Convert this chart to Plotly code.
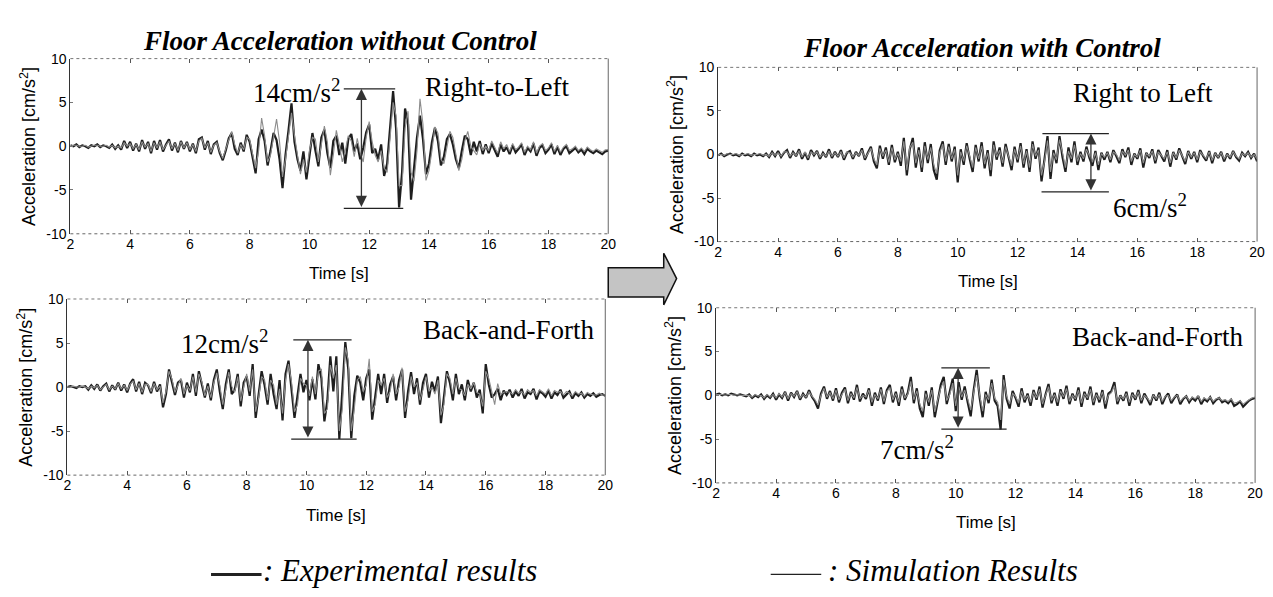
import plotly.graph_objects as go

W, H = 1273, 597

# ---------------- data (0.1 s sampling) ----------------
time_s = [round(2.0 + 0.1 * i, 1) for i in range(181)]

p1_exp = [0.1, 0.0, 0.2, -0.1, 0.1, 0.0, -0.2, 0.1, 0.0, 0.2,
          -0.1, 0.1, 0.0, -0.2, 0.2, -0.3, 0.1, -0.4, 0.6, -0.2,
          0.5, -0.5, 0.3, -0.6, 0.7, -0.3, 0.5, -0.8, 0.6, -0.4,
          0.7, -0.6, 0.2, 0.8, -0.5, 0.4, -0.7, 0.6, -0.3, 0.5,
          -0.6, 0.3, -0.8, 0.8, 1.0, -0.4, 0.6, -0.9, 0.2, 0.5,
          -0.8, -1.6, -0.5, 0.9, 1.5, -0.3, -1.0, 0.4, -0.6, 1.3,
          0.5, -1.2, -3.1, 0.8, 1.9, 0.6, -2.2, -0.5, 1.5, 0.7,
          -1.5, -4.8, -1.0, 1.8, 4.9, 0.5, -1.5, -2.8, -0.6, -3.8,
          -1.2, 1.5, -0.5, -2.3, 1.0, 1.9, -0.8, -2.5, 0.6, 1.2,
          -1.0, 0.4, -2.0, 0.8, 1.4, -0.6, 0.3, -1.5, -0.2, 1.6,
          2.5, -0.8, -0.3, -1.5, 0.2, -3.4, -2.0, 2.5, 6.3, 2.0,
          -7.0, -3.0, 4.3, 2.5, -6.1, -2.5, 1.0, 3.5, 0.8, -3.2,
          -2.0, 0.5, 2.1, 0.6, -2.2, -1.2, 0.8, 1.4, 0.2, -1.5,
          -2.5, -0.5, 1.2, 0.8, -1.0, 0.5, -0.6, 0.6, -0.9, 0.2,
          -0.8, 0.3, -0.5, -1.2, 0.2, -0.6, -0.1, -0.9, 0.1, -0.7,
          -0.3, 0.2, -1.0, -0.2, -0.6, 0.3, -1.1, -0.2, 0.1, -0.8,
          -0.4, 0.2, -0.9, -0.1, -1.0, -0.3, 0.0, -0.8, -0.5, -0.2,
          -0.7, -0.4, -0.9, -0.3, -0.6, -0.8, -0.5, -0.7, -0.9, -0.6,
          -0.5]
p1_sim = [0.0, 0.1, 0.1, 0.0, 0.0, 0.1, -0.1, 0.0, 0.1, 0.1,
          0.0, 0.0, 0.1, -0.1, 0.1, -0.2, 0.0, -0.2, 0.4, 0.0,
          0.3, -0.3, 0.2, -0.4, 0.5, -0.1, 0.3, -0.6, 0.4, -0.2,
          0.5, -0.4, 0.1, 0.6, -0.3, 0.3, -0.5, 0.5, -0.2, 0.4,
          -0.4, 0.2, -0.6, 0.6, 0.9, -0.2, 0.4, -0.7, 0.1, 0.4,
          -0.6, -1.4, -0.3, 0.8, 1.7, 0.2, -0.8, 0.2, -0.4, 1.0,
          0.8, -0.9, -2.5, -0.5, 3.2, 1.2, -1.8, -1.0, 0.9, 3.1,
          0.5, -3.5, -1.5, 1.0, 3.8, 1.2, -0.8, -3.2, -1.5, -3.0,
          -0.5, 1.0, 0.8, -1.8, 0.2, 2.3, 0.5, -3.3, -1.0, 1.8,
          0.2, -1.8, -0.5, 1.2, 0.6, -1.2, 0.9, -0.8, -1.8, 1.0,
          2.8, 0.5, -1.0, -1.8, -0.5, -2.5, -3.0, 1.0, 5.0, 3.5,
          -4.5, -4.5, 2.0, 4.0, -3.0, -4.0, -0.5, 5.4, 2.5, -3.9,
          -2.8, -0.5, 2.2, 1.5, -1.5, -2.0, 0.0, 1.7, 1.0, -1.0,
          -2.8, -1.5, 0.6, 1.7, 0.0, -0.5, -1.0, 0.3, -0.5, 0.0,
          -0.5, 0.6, -0.2, -0.8, 0.5, -0.3, 0.2, -0.6, 0.3, -0.4,
          -0.1, 0.4, -0.7, 0.0, -0.4, 0.5, -0.8, 0.0, 0.3, -0.5,
          -0.2, 0.4, -0.6, 0.1, -0.7, -0.1, 0.2, -0.5, -0.3, 0.0,
          -0.5, -0.2, -0.6, -0.1, -0.4, -0.6, -0.3, -0.5, -0.7, -0.4,
          -0.4]

p2_exp = [0.0, 0.1, 0.0, -0.1, 0.1, 0.0, 0.1, -0.3, 0.2, -0.2,
          0.3, -0.4, 0.1, 0.4, -0.5, 0.2, -0.3, 0.5, -0.4, 0.3,
          -0.6, 0.4, 0.9, -0.5, 0.6, -0.8, 0.5, 0.2, -0.7, 0.6,
          -0.5, 0.3, -2.3, -0.8, 2.0, 0.6, -0.9, 0.5, 0.8, -1.2,
          0.5, -0.6, 1.5, -1.0, 1.8, 0.3, -1.2, 0.4, -1.5, 0.8,
          2.0, -0.5, -2.5, 0.3, 2.0, -0.8, -0.3, 1.5, -2.2, 0.5,
          1.2, -1.0, 2.6, -3.5, -0.5, 1.8, 0.2, -2.0, 1.5, -0.8,
          -2.5, 0.8, -3.8, 1.5, 3.0, -0.5, -3.5, -1.0, 1.5, -0.6,
          0.8, -1.5, 0.9, -1.4, 2.6, 1.0, -3.9, -1.5, 3.5, -0.5,
          3.5, -5.9, -1.0, 5.1, 2.0, -5.8, -1.0, 1.3, 0.5, -1.5,
          1.0, 2.0, -3.7, -1.0, 1.5, -0.8, 1.5, -1.8, 0.3, 1.2,
          -1.5, 0.8, 2.0, -3.5, -0.5, 1.7, -0.8, 1.0, -2.0, 0.5,
          1.5, -1.2, 0.6, -0.5, 1.2, -4.1, -1.0, 1.8, 0.5, -1.5,
          1.5, -0.8, 0.3, -1.5, 0.8, -0.5, 0.5, -1.2, -0.3, -3.0,
          2.6, 0.3, -1.2, -0.8, -0.2, -1.5, -0.4, -0.9, -0.3, -1.2,
          -0.5, -1.0, -0.2, -1.3, -0.6, -0.8, -0.2, -1.4, -0.5, -0.7,
          -1.1, -0.4, -1.3, -0.6, -0.9, -0.3, -1.2, -0.8, -0.5, -1.3,
          -0.7, -1.0, -0.6, -1.2, -0.8, -1.0, -0.7, -1.1, -0.9, -0.8,
          -1.0]
p2_sim = [0.0, 0.0, 0.1, 0.0, 0.0, 0.1, 0.0, -0.2, 0.1, -0.1,
          0.2, -0.3, 0.0, 0.3, -0.3, 0.1, -0.2, 0.4, -0.2, 0.2,
          -0.4, 0.3, 0.7, -0.3, 0.4, -0.6, 0.3, 0.3, -0.5, 0.4,
          -0.3, 0.1, -1.8, -0.5, 1.8, 0.9, -0.6, 0.3, 1.0, -0.8,
          0.2, -0.4, 1.2, -0.6, 1.5, 0.6, -1.0, 0.1, -1.2, 0.5,
          1.6, 0.2, -2.0, -0.3, 1.7, 0.1, -0.6, 1.2, -1.6, 0.0,
          1.5, -0.5, 2.0, -2.8, -1.2, 1.2, 0.8, -1.5, 0.8, 0.2,
          -2.0, -0.2, -3.0, 0.8, 2.6, 0.6, -2.8, -2.0, 1.0, 0.4,
          0.2, -1.0, 1.2, -0.8, 1.8, 2.0, -3.0, -2.5, 2.5, 1.0,
          2.5, -5.0, -2.5, 4.5, 3.0, -5.0, -2.5, 0.8, 1.2, -0.5,
          0.2, 3.2, -2.8, -2.0, 0.8, 0.2, 1.0, -1.2, -0.5, 1.5,
          -0.8, 0.0, 2.2, -2.8, -1.5, 1.2, 0.0, 0.5, -1.5, -0.3,
          1.2, -0.5, 0.0, -0.8, 0.8, -3.2, -2.0, 1.5, 1.0, -0.8,
          1.0, -0.2, -0.3, -1.0, 0.3, -0.2, 0.5, -0.6, -0.8, -2.2,
          1.8, 1.0, -0.6, -2.0, 0.4, -0.8, -0.6, -0.5, -0.6, -0.8,
          -0.3, -0.7, -0.5, -0.9, -0.3, -0.6, -0.4, -1.0, -0.3, -0.6,
          -0.8, -0.2, -1.0, -0.4, -0.6, -0.5, -0.9, -0.5, -0.7, -1.0,
          -0.5, -0.8, -0.7, -1.0, -0.6, -0.8, -0.9, -0.9, -0.7, -0.9,
          -0.9]

p3_exp = [-0.1, 0.1, -0.2, 0.0, 0.1, -0.1, 0.0, -0.2, 0.1, -0.1,
          0.0, -0.2, 0.1, -0.1, 0.0, -0.2, 0.1, -0.3, 0.3, -0.2,
          0.4, -0.3, 0.2, 0.5, -0.4, 0.3, -0.2, 0.6, -0.5, 0.2,
          -0.6, 0.5, -0.1, 0.4, -0.5, 0.2, -0.3, 0.6, -0.4, 0.3,
          -0.3, 0.5, -0.6, 0.2, 0.4, -0.5, 0.3, -0.2, 0.7, -0.6,
          0.2, 0.9, -0.8, -1.6, 1.0, -0.5, 0.8, -1.2, 1.1, -0.9,
          0.3, -1.3, 1.9, -2.4, 0.6, 1.9, -1.5, 0.8, -2.0, 1.4,
          -1.0, 1.2, -1.8, -2.9, 0.5, 1.5, -1.2, 1.2, -0.8, 0.9,
          -3.2, 0.6, -1.2, 1.3, -0.5, -2.0, 1.1, -0.8, 1.4, -1.6,
          0.5, -2.5, 1.5, -0.6, 0.8, -1.4, 1.2, -0.4, -1.8, 0.9,
          -0.9, 1.3, -1.5, 0.6, -2.0, 1.5, -0.5, 0.8, -3.1, -0.5,
          2.1, -2.8, 0.5, -1.0, 2.1, -0.3, -2.0, 0.8, -0.9, 1.5,
          -1.2, 0.3, -0.8, 0.9, -0.4, -1.3, 0.4, -1.8, 0.2, -0.6,
          0.3, -0.9, 0.5, -0.2, -1.0, 0.6, -0.3, 0.8, -1.2, 0.1,
          -0.5, 0.7, -1.5, 0.2, -0.4, 0.6, -1.0, 0.5, -0.2, -0.8,
          0.5, -1.4, 0.3, -0.6, 0.7, -0.3, -1.1, 0.4, -0.5, 0.3,
          -0.9, 0.5, -0.2, -0.7, 0.4, -1.0, 0.2, -0.4, 0.3, -0.8,
          0.1, -0.5, 0.4, -0.3, -0.7, 0.2, -0.2, 0.3, -0.4, 0.1,
          -0.8]
p3_sim = [0.0, 0.0, -0.1, 0.1, 0.0, 0.0, 0.1, -0.1, 0.0, 0.0,
          0.1, -0.1, 0.0, 0.0, 0.1, -0.1, 0.0, -0.2, 0.2, -0.1,
          0.2, -0.2, 0.3, 0.3, -0.2, 0.2, -0.1, 0.4, -0.3, 0.3,
          -0.4, 0.3, 0.0, 0.3, -0.3, 0.1, -0.2, 0.4, -0.2, 0.2,
          -0.2, 0.3, -0.4, 0.3, 0.2, -0.3, 0.2, -0.1, 0.5, -0.4,
          0.1, 0.7, -0.5, -1.2, 0.7, -0.2, 0.5, -0.9, 0.8, -0.6,
          0.1, -0.8, 1.5, -1.8, 0.8, 1.4, -1.0, 0.5, -1.5, 1.0,
          -0.6, 0.8, -1.2, -2.2, 0.2, 1.2, -0.8, 0.9, -0.5, 0.6,
          -2.4, 0.3, -0.8, 1.0, -0.2, -1.5, 0.8, -0.5, 1.0, -1.1,
          0.2, -1.8, 1.1, -0.3, 0.5, -1.0, 0.9, -0.2, -1.3, 0.6,
          -0.6, 1.0, -1.1, 0.4, -1.5, 1.2, -0.2, 0.5, -2.4, -0.8,
          1.6, -2.0, 0.2, -0.6, 1.7, 0.2, -1.5, 0.4, -0.5, 1.1,
          -0.8, 0.1, -0.5, 0.6, -0.1, -0.9, 0.2, -1.2, 0.1, -0.3,
          0.2, -0.6, 0.3, 0.0, -0.7, 0.4, -0.1, 0.5, -0.8, 0.0,
          -0.3, 0.5, -1.0, 0.1, -0.2, 0.4, -0.7, 0.3, -0.1, -0.5,
          0.3, -1.0, 0.2, -0.4, 0.5, -0.2, -0.8, 0.3, -0.3, 0.2,
          -0.6, 0.3, -0.1, -0.5, 0.3, -0.7, 0.1, -0.3, 0.2, -0.5,
          0.0, -0.3, 0.3, -0.2, -0.5, 0.1, -0.1, 0.2, -0.3, 0.0,
          -0.5]

p4_exp = [0.1, 0.2, 0.0, 0.1, 0.0, 0.2, 0.1, 0.0, 0.1, 0.0,
          -0.1, 0.1, -0.3, 0.0, -0.2, 0.1, -0.4, 0.0, -0.3, 0.2,
          -0.5, 0.1, -0.3, 0.4, -0.6, 0.3, -0.2, 0.5, -0.5, 0.2,
          -0.3, 0.6, -0.2, -0.7, -1.5, 0.2, 1.0, -0.4, 0.5, -0.6,
          0.8, -0.8, 0.3, 0.9, -0.9, 0.4, -0.5, 1.2, -0.7, 0.2,
          -0.4, 0.8, -1.2, 0.3, -0.6, 0.9, -1.0, 0.6, 1.2, -0.8,
          0.4, -1.2, 1.0, -0.5, 0.3, 2.1, -0.9, 0.8, -1.5, -2.5,
          0.5, -1.2, 0.9, -2.5, -0.8, 1.2, 2.1, -1.0, 0.4, 1.9,
          -1.8, 1.5, -0.5, 1.0, -0.8, -2.4, 0.6, 2.9, -0.3, -2.5,
          0.4, -0.9, 1.8, -0.6, -1.2, -3.9, 2.3, -0.4, -1.5, 0.5,
          -0.3, -1.3, 0.8, -0.8, 0.2, -1.2, 0.6, -0.5, 1.0, -1.4,
          0.1, 1.3, -0.9, 0.3, -1.2, 0.7, -0.4, 1.1, -1.0, 0.2,
          -0.6, 0.9, -1.3, 0.4, -0.5, 1.0, -1.1, 0.3, -0.8, 0.6,
          -1.5, 0.2, 0.5, 1.5, -1.0, 0.0, -0.6, 0.4, -1.2, 0.3,
          -0.5, 0.6, -0.9, 0.2, -0.4, -1.1, 0.1, -0.6, 0.3, -1.0,
          -0.2, 0.2, -0.9, -0.3, 0.1, -1.0, -0.4, -0.1, -0.8, -0.3,
          -0.6, -0.1, -1.0, -0.4, -0.7, -0.2, -0.9, -0.5, -0.3, -0.8,
          -0.6, -0.9, -0.5, -1.2, -1.0, -0.7, -1.3, -0.9, -0.6, -0.4,
          -0.3]
p4_sim = [0.1, 0.1, 0.1, 0.0, 0.1, 0.1, 0.0, 0.1, 0.0, 0.0,
          0.0, 0.0, -0.2, 0.1, -0.1, 0.0, -0.3, 0.1, -0.2, 0.1,
          -0.3, 0.2, -0.2, 0.3, -0.4, 0.2, -0.1, 0.4, -0.3, 0.1,
          -0.2, 0.4, -0.1, -0.5, -1.1, 0.0, 0.8, -0.2, 0.3, -0.4,
          0.6, -0.5, 0.1, 0.7, -0.6, 0.2, -0.3, 0.9, -0.4, 0.0,
          -0.2, 0.6, -0.8, 0.1, -0.4, 0.7, -0.7, 0.4, 0.9, -0.5,
          0.2, -0.8, 0.7, -0.3, 0.1, 1.6, -0.5, 0.5, -1.0, -1.8,
          0.2, -0.8, 0.6, -1.9, -0.5, 0.8, 1.6, -0.6, 0.1, 1.4,
          -1.2, 1.0, -0.2, 0.6, -0.4, -1.7, 0.3, 2.3, 0.0, -1.8,
          0.1, -0.5, 1.4, -0.3, -0.8, -2.8, 1.8, -0.1, -1.0, 0.2,
          -0.1, -0.9, 0.5, -0.5, 0.0, -0.8, 0.4, -0.3, 0.7, -1.0,
          0.0, 1.0, -0.6, 0.1, -0.8, 0.5, -0.2, 0.8, -0.7, 0.0,
          -0.4, 0.6, -0.9, 0.2, -0.3, 0.7, -0.8, 0.1, -0.5, 0.4,
          -1.0, 0.0, 0.3, 1.1, -0.7, -0.1, -0.4, 0.2, -0.8, 0.1,
          -0.3, 0.4, -0.6, 0.0, -0.3, -0.8, 0.0, -0.4, 0.1, -0.7,
          -0.1, 0.0, -0.6, -0.2, 0.0, -0.7, -0.3, -0.1, -0.6, -0.2,
          -0.4, -0.1, -0.7, -0.3, -0.5, -0.2, -0.7, -0.4, -0.3, -0.6,
          -0.5, -0.7, -0.4, -0.9, -0.8, -0.6, -1.0, -0.7, -0.5, -0.3,
          -0.2]

x_ticks = [2, 4, 6, 8, 10, 12, 14, 16, 18, 20]
y_ticks = [-10, -5, 0, 5, 10]
y_tick_labels = ["-10", "-5", "0", "5", "10"]

panel_titles = ["Floor Acceleration without Control", "Floor Acceleration with Control"]
direction_labels = ["Right-to-Left", "Back-and-Forth", "Right to Left", "Back-and-Forth"]
range_labels = ["14cm/s<sup>2</sup>", "12cm/s<sup>2</sup>", "6cm/s<sup>2</sup>", "7cm/s<sup>2</sup>"]

# ---------------- layout helpers ----------------
def dom_x(a, b):
    return [a / W, b / W]

def dom_y(top, bottom):
    return [1 - bottom / H, 1 - top / H]

def px(x):
    return x / W

def py(y):
    return 1 - y / H

# pixel boxes of the four panels: (left, right, top, bottom)
boxes = [(67, 610, 52, 232), (64, 607, 299, 480), (721, 1265, 61, 240), (719, 1263, 308, 488)]
series = [(p1_exp, p1_sim), (p2_exp, p2_sim), (p3_exp, p3_sim), (p4_exp, p4_sim)]

SANS = "Liberation Sans, Arial, sans-serif"
SERIF = "Liberation Serif, Times New Roman, serif"

fig = go.Figure()
layout = dict(width=W, height=H, margin=dict(l=0, r=0, t=0, b=0), autosize=False,
              paper_bgcolor="white", plot_bgcolor="white", showlegend=False)

annotations = []
shapes = []

for i, ((l, r, t, b), (exp, sim)) in enumerate(zip(boxes, series)):
    k = "" if i == 0 else str(i + 1)
    xa, ya = "x" + k, "y" + k
    fig.add_trace(go.Scatter(x=time_s, y=exp, mode="lines", xaxis=xa, yaxis=ya,
                             line=dict(color="#1e1e1e", width=2.2), hoverinfo="skip"))
    fig.add_trace(go.Scatter(x=time_s, y=sim, mode="lines", xaxis=xa, yaxis=ya,
                             line=dict(color="#8c8c8c", width=1.1), hoverinfo="skip"))
    layout["xaxis" + k] = dict(domain=dom_x(l, r), anchor=ya, range=[2, 20],
                               tickvals=x_ticks, ticktext=[str(v) for v in x_ticks],
                               ticks="inside", ticklen=4, tickcolor="#555",
                               showline=False, mirror="ticks",
                               showgrid=False, zeroline=False, fixedrange=True,
                               tickfont=dict(family=SANS, size=14, color="black"))
    layout["yaxis" + k] = dict(domain=dom_y(t, b), anchor=xa, range=[-10, 10],
                               tickvals=y_ticks, ticktext=y_tick_labels,
                               ticks="inside", ticklen=3, tickcolor="#777",
                               showline=True, linecolor="#333", linewidth=1.2, mirror=False,
                               showgrid=False, zeroline=False, fixedrange=True,
                               tickfont=dict(family=SANS, size=14, color="black"))
    # frame: dotted top / bottom, thin solid right
    xd, yd = xa + " domain", ya + " domain"
    shapes.append(dict(type="line", xref=xd, yref=yd, x0=0, x1=1, y0=1, y1=1,
                       line=dict(color="#777", width=1, dash="dot")))
    shapes.append(dict(type="line", xref=xd, yref=yd, x0=0, x1=1, y0=0, y1=0,
                       line=dict(color="#666", width=1, dash="dot")))
    shapes.append(dict(type="line", xref=xd, yref=yd, x0=1, x1=1, y0=0, y1=1,
                       line=dict(color="#666", width=1)))
    # axis titles
    annotations.append(dict(text="Time [s]", xref="paper", yref="paper",
                            x=px((l + r) / 2), y=py(b + 41), xanchor="center", yanchor="middle",
                            showarrow=False, font=dict(family=SANS, size=17, color="black")))
    annotations.append(dict(text="Acceleration [cm/s<sup>2</sup>]", xref="paper", yref="paper",
                            x=px(l - 43), y=py((t + b) / 2), xanchor="center", yanchor="middle",
                            textangle=-90, showarrow=False,
                            font=dict(family=SANS, size=18, color="black")))

# in-panel labels and amplitude brackets (data coordinates)
brackets = [
    # (top_y, top_x0, top_x1, bot_y, bot_x0, bot_x1, arrow_x)
    (6.55, 11.15, 12.87, -7.1, 11.15, 13.14, 11.74),
    (5.36, 9.56, 11.51, -5.9, 9.49, 11.68, 10.05),
    (2.4, 12.83, 15.05, -4.3, 12.80, 15.05, 14.45),
    (3.14, 9.52, 11.14, -3.86, 9.52, 11.70, 10.08),
]
dir_pos = [(16.29, 6.8), (16.77, 6.46), (16.2, 7.1), (16.75, 6.7)]
rng_pos = [(11.1, 6.3, "right"), (8.78, 5.1, "right"), (15.12, -5.9, "left"), (8.72, -6.0, "center")]

for i, (ty, tx0, tx1, by, bx0, bx1, axp) in enumerate(brackets):
    k = "" if i == 0 else str(i + 1)
    xa, ya = "x" + k, "y" + k
    shapes.append(dict(type="line", xref=xa, yref=ya, x0=tx0, x1=tx1, y0=ty, y1=ty,
                       line=dict(color="#222", width=1.2)))
    shapes.append(dict(type="line", xref=xa, yref=ya, x0=bx0, x1=bx1, y0=by, y1=by,
                       line=dict(color="#222", width=1.2)))
    annotations.append(dict(x=axp, y=ty, ax=axp, ay=by, xref=xa, yref=ya, axref=xa, ayref=ya,
                            text="", showarrow=True, arrowhead=2, arrowside="end+start",
                            arrowsize=1.7, arrowwidth=1.3, arrowcolor="#333",
                            standoff=0, startstandoff=0))
    dx, dy = dir_pos[i]
    annotations.append(dict(x=dx, y=dy, xref=xa, yref=ya, text=direction_labels[i],
                            showarrow=False, xanchor="center", yanchor="middle",
                            font=dict(family=SERIF, size=27, color="black")))
    rx, ry, anc = rng_pos[i]
    annotations.append(dict(x=rx, y=ry, xref=xa, yref=ya, text=range_labels[i],
                            showarrow=False, xanchor=anc, yanchor="middle",
                            font=dict(family=SERIF, size=27, color="black")))

# column titles
annotations.append(dict(text="<b><i>" + panel_titles[0] + "</i></b>", xref="paper", yref="paper",
                        x=px(339), y=py(34), xanchor="center", yanchor="middle", showarrow=False,
                        font=dict(family=SERIF, size=27, color="black")))
annotations.append(dict(text="<b><i>" + panel_titles[1] + "</i></b>", xref="paper", yref="paper",
                        x=px(987), y=py(41), xanchor="center", yanchor="middle", showarrow=False,
                        font=dict(family=SERIF, size=27, color="black")))

# legend (bottom)
shapes.append(dict(type="line", xref="paper", yref="paper", x0=px(209), x1=px(260),
                   y0=py(582), y1=py(582), line=dict(color="#222", width=3)))
annotations.append(dict(text="<i>: Experimental results</i>", xref="paper", yref="paper",
                        x=px(259), y=py(578), xanchor="left", yanchor="middle", showarrow=False,
                        font=dict(family=SERIF, size=31, color="black")))
shapes.append(dict(type="line", xref="paper", yref="paper", x0=px(774), x1=px(825),
                   y0=py(582), y1=py(582), line=dict(color="#222", width=1.2)))
annotations.append(dict(text="<i>: Simulation Results</i>", xref="paper", yref="paper",
                        x=px(830), y=py(578), xanchor="left", yanchor="middle", showarrow=False,
                        font=dict(family=SERIF, size=31, color="black")))

# block arrow between the columns
pts = [(610, 267), (666, 267), (666, 252), (679, 278), (666, 305), (666, 297), (610, 297)]
path = "M " + " L ".join(f"{px(a):.5f},{py(b):.5f}" for a, b in pts) + " Z"
shapes.append(dict(type="path", xref="paper", yref="paper", path=path,
                   fillcolor="#c4c4c4", line=dict(color="#111", width=1.5)))

layout["annotations"] = annotations
layout["shapes"] = shapes
fig.update_layout(**layout)
fig.write_html("out.html")
